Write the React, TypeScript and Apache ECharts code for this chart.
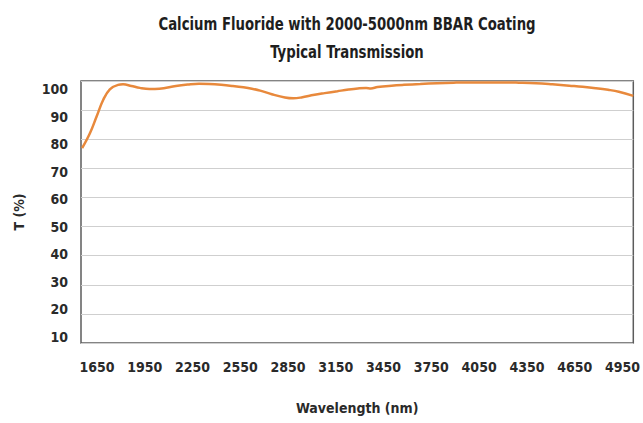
import React, { useEffect, useRef } from "react";
import * as echarts from "echarts";

const wavelengths = [1557, 1606, 1648, 1689, 1731, 1783, 1814, 1866, 1920, 1980, 2042, 2146, 2220, 2291, 2354, 2430, 2499, 2570, 2623, 2675, 2748, 2831, 2883, 2940, 2997, 3080, 3160, 3230, 3288, 3340, 3370, 3412, 3500, 3578, 3680, 3786, 3890, 3993, 4100, 4201, 4300, 4408, 4510, 4616, 4700, 4782, 4860, 4927, 5018];
const transmission = [78.5, 83.9, 90.0, 96.0, 99.9, 101.5, 101.7, 101.1, 100.4, 100.0, 100.1, 101.1, 101.6, 101.9, 101.8, 101.5, 101.1, 100.6, 100.1, 99.4, 98.1, 96.9, 96.6, 97.0, 97.7, 98.5, 99.2, 99.8, 100.2, 100.4, 100.2, 100.7, 101.2, 101.5, 101.8, 102.1, 102.3, 102.4, 102.4, 102.4, 102.3, 102.1, 101.7, 101.2, 100.8, 100.3, 99.7, 99.0, 97.5];
const xTicks = [1650, 1950, 2250, 2550, 2850, 3150, 3450, 3750, 4050, 4350, 4650, 4950];
const yTicks = [10, 20, 30, 40, 50, 60, 70, 80, 90, 100];
const titleLines = ["Calcium Fluoride with 2000-5000nm BBAR Coating", "Typical Transmission"];

const FONT = "'DejaVu Sans Condensed', sans-serif";

export default function App() {
  const ref = useRef<HTMLDivElement>(null);
  useEffect(() => {
    if (!ref.current) return;
    const chart = echarts.init(ref.current, undefined, { renderer: "svg" });
    const labelStyle = { fontFamily: FONT, fontWeight: "bold" as const, fontSize: 14, color: "#2a2a2a" };
    chart.setOption({
      animation: false,
      backgroundColor: "#ffffff",
      graphic: [
        {
          type: "text",
          x: 347,
          y: 10,
          scaleX: 0.82,
          style: {
            text: titleLines.join("\n"),
            align: "center",
            verticalAlign: "top",
            font: `bold 18px ${FONT}`,
            fill: "#1e1e1e",
            lineHeight: 28,
          },
        },
      ],
      grid: {
        left: 81,
        top: 81,
        width: 557,
        height: 262,
        show: true,
        borderColor: "#5c5c5c",
        borderWidth: 1.5,
        backgroundColor: "transparent",
      },
      xAxis: {
        type: "value",
        min: 1550,
        max: 5018,
        axisLine: { show: false },
        axisTick: { show: false },
        splitLine: { show: false },
        axisLabel: { ...labelStyle, margin: 17, customValues: xTicks, formatter: (v: number) => String(v) },
        name: "Wavelength (nm)",
        nameLocation: "middle",
        nameGap: 58,
        nameTextStyle: { ...labelStyle },
      },
      yAxis: [
        {
          type: "value",
          min: 7.8,
          max: 102.9,
          axisLine: { show: false },
          axisTick: { show: false },
          splitLine: { show: false },
          axisLabel: { ...labelStyle, margin: 13, customValues: yTicks, formatter: (v: number) => String(v) },
          name: "T (%)",
          nameLocation: "middle",
          nameGap: 55,
          nameRotate: 90,
          nameTextStyle: { ...labelStyle },
        },
        {
          type: "value",
          min: 0,
          max: 9,
          interval: 1,
          position: "left",
          axisLine: { show: false },
          axisTick: { show: false },
          axisLabel: { show: false },
          splitLine: { show: true, lineStyle: { color: "#cfcfcf", width: 1 } },
        },
      ],
      series: [
        {
          type: "line",
          yAxisIndex: 0,
          data: wavelengths.map((w, i) => [w, transmission[i]]),
          smooth: 0.4,
          showSymbol: false,
          lineStyle: { color: "#e8893c", width: 2.5 },
          z: 5,
        },
      ],
    });
    return () => chart.dispose();
  }, []);
  return <div ref={ref} style={{ position: "fixed", left: 0, top: 0, width: 643, height: 423 }} />;
}
